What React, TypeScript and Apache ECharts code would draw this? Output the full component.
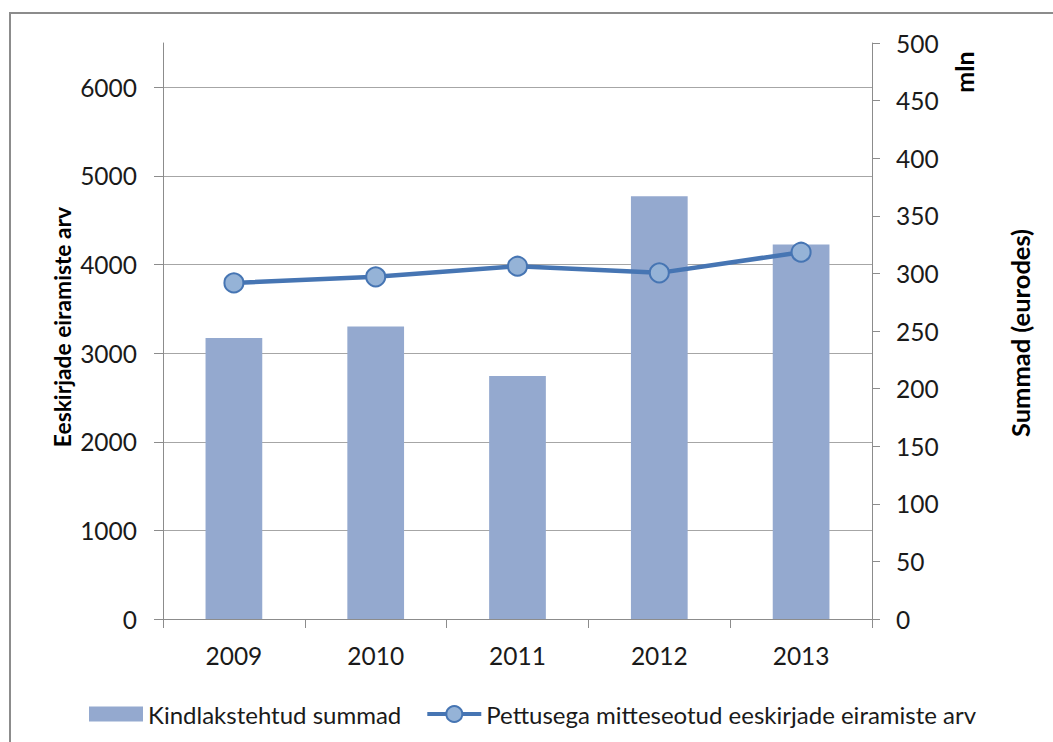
import React, { useEffect, useRef } from "react";
import * as echarts from "echarts";

const years = ["2009", "2010", "2011", "2012", "2013"];
// Kindlakstehtud summad (mln eurot) – right axis
const amounts = [244, 254, 211, 367, 325];
// Pettusega mitteseotud eeskirjade eiramiste arv – left axis
const counts = [3793, 3861, 3981, 3906, 4139];
const leftTicks = [0, 1000, 2000, 3000, 4000, 5000, 6000];

const barName = "Kindlakstehtud summad";
const lineName = "Pettusega mitteseotud eeskirjade eiramiste arv";
const leftTitle = "Eeskirjade eiramiste arv";
const rightTitle = "Summad (eurodes)";
const unitTitle = "mln";

const FONT = "Lato, 'Open Sans', sans-serif";
const FS = 24.5;

export default function App() {
  const ref = useRef<HTMLDivElement>(null);
  useEffect(() => {
    if (!ref.current) return;
    const chart = echarts.init(ref.current, null, { renderer: "svg" });
    const axisGray = "#8C8C8C";
    const titleStyle = {
      fontWeight: "bold",
      fontFamily: FONT,
      fill: "#000",
      textAlign: "center",
      textVerticalAlign: "middle",
    };
    chart.setOption({
      animation: false,
      backgroundColor: "#fff",
      textStyle: { fontFamily: FONT },
      grid: { left: 163, right: 181, top: 43, bottom: 123, containLabel: false },
      xAxis: {
        type: "category",
        data: years,
        boundaryGap: true,
        axisLine: { show: true, lineStyle: { color: axisGray, width: 1 } },
        axisTick: { show: true, length: 9, lineStyle: { color: axisGray } },
        axisLabel: { color: "#1a1a1a", fontSize: FS, margin: 24, fontFamily: FONT },
        splitLine: { show: false },
      },
      yAxis: [
        {
          type: "value",
          min: 0,
          max: 6500,
          interval: 1000,
          position: "left",
          axisLine: { show: true, lineStyle: { color: axisGray, width: 1 } },
          axisTick: { show: true, length: 9, lineStyle: { color: axisGray }, customValues: leftTicks },
          axisLabel: {
            color: "#1a1a1a",
            fontSize: FS,
            margin: 26,
            fontFamily: FONT,
            customValues: leftTicks,
            formatter: (v: number) => String(v),
          },
          splitLine: {
            show: true,
            showMinLine: false,
            lineStyle: { color: "#A6A6A6", width: 1 },
          },
        },
        {
          type: "value",
          min: 0,
          max: 500,
          interval: 50,
          position: "right",
          axisLine: { show: true, lineStyle: { color: axisGray, width: 1 } },
          axisTick: { show: true, length: 8, lineStyle: { color: axisGray } },
          axisLabel: { color: "#1a1a1a", fontSize: FS, margin: 24, fontFamily: FONT },
          splitLine: { show: false },
        },
      ],
      legend: {
        left: 84,
        top: 697,
        itemGap: 24,
        itemWidth: 54,
        itemHeight: 20,
        symbolKeepAspect: true,
        textStyle: { fontSize: 24, color: "#1a1a1a", fontFamily: FONT, padding: [0, 0, 0, 0] },
        data: [
          { name: barName, icon: "path://M0,0H51V14H0Z", itemStyle: { color: "#94A9CF" } },
          { name: lineName, lineStyle: { width: 4, color: "#4675B3" } },
        ],
      },
      series: [
        {
          name: barName,
          type: "bar",
          yAxisIndex: 1,
          data: amounts,
          barWidth: "40%",
          itemStyle: { color: "#94A9CF" },
        },
        {
          name: lineName,
          type: "line",
          yAxisIndex: 0,
          data: counts,
          symbol: "circle",
          symbolSize: 19,
          lineStyle: { color: "#4675B3", width: 4.5 },
          itemStyle: { color: "#95B3D7", borderColor: "#4675B3", borderWidth: 2 },
          z: 3,
        },
      ],
      graphic: [
        {
          type: "rect",
          shape: { x: 10, y: 13, width: 1100, height: 800 },
          style: { fill: "none", stroke: "#8C8C8C", lineWidth: 2 },
          silent: true,
          z: -1,
        },
        {
          type: "text",
          x: 62,
          y: 327,
          rotation: Math.PI / 2,
          style: { ...titleStyle, fontSize: 22.8, text: leftTitle },
        },
        {
          type: "text",
          x: 1020,
          y: 333,
          rotation: Math.PI / 2,
          style: { ...titleStyle, fontSize: 25.5, text: rightTitle },
        },
        {
          type: "text",
          x: 964,
          y: 72,
          rotation: Math.PI / 2,
          style: { ...titleStyle, fontSize: 25, text: unitTitle },
        },
      ],
    });
    return () => chart.dispose();
  }, []);
  return (
    <div
      ref={ref}
      style={{ position: "absolute", left: 0, top: 0, width: 1053, height: 742, background: "#fff" }}
    />
  );
}
